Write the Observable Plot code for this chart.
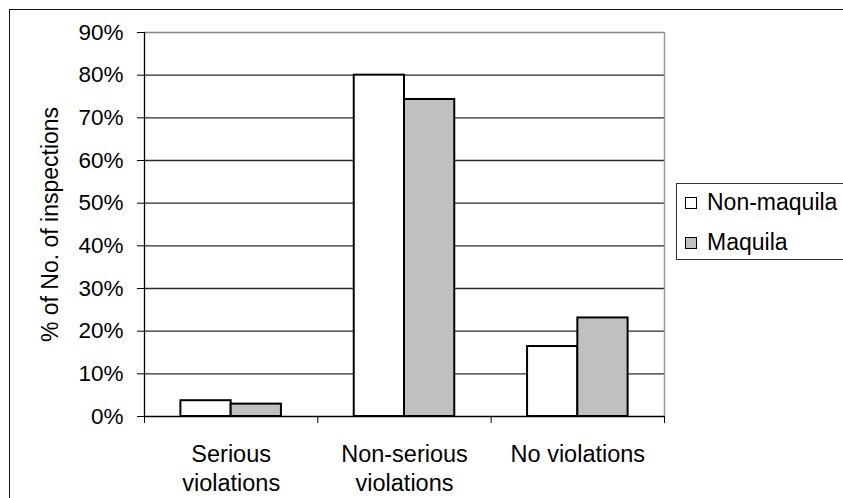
<!DOCTYPE html>
<html>
<head>
<meta charset="utf-8">
<script src="https://cdn.jsdelivr.net/npm/d3@7"></script>
<script src="https://cdn.jsdelivr.net/npm/@observablehq/plot@0.6"></script>
<style>
  html, body { margin: 0; padding: 0; background: #fff; }
  #wrap { position: relative; width: 843px; height: 498px; overflow: hidden;
          font-family: "Liberation Sans", Arial, sans-serif; }
  #wrap svg { position: absolute; left: 0; top: 0; }
  #outline { position: absolute; left: 9px; top: 9px; width: 900px; height: 600px;
             border-left: 1.5px solid #111; border-top: 1.5px solid #111; }
  #legend { position: absolute; left: 676px; top: 183px; width: 220px; height: 75px;
            border: 1.5px solid #333; background: #fff; }
  .item { position: absolute; left: 8px; font-size: 23px; line-height: 23px; color: #000;
          display: flex; align-items: center; white-space: nowrap; }
  .swatch { width: 10px; height: 10px; border: 1.5px solid #000; margin-right: 10px; }
</style>
</head>
<body>
<div id="wrap">
  <div id="outline"></div>
  <div id="legend"></div>
</div>
<script>
// Inspection outcomes, percent of inspections
const categories = ["Serious violations", "Non-serious violations", "No violations"];
const categoryLabels = ["Serious\nviolations", "Non-serious\nviolations", "No violations"];
const series = ["Non-maquila", "Maquila"];
const seriesColors = ["#ffffff", "#c0c0c0"];
const nonMaquila = [3.7, 80, 16.4];
const maquila = [2.9, 74.3, 23.1];
const yTicks = [0, 10, 20, 30, 40, 50, 60, 70, 80, 90];

// One row per bar; each category occupies one unit on x, bars sit side by side in the middle
const barWidth = 0.29;
const rows = [];
categories.forEach((c, i) => {
  [nonMaquila, maquila].forEach((vals, s) => {
    rows.push({category: c, index: i, series: series[s], slot: s, value: vals[i]});
  });
});

const chart = Plot.plot({
  width: 843,
  height: 498,
  marginLeft: 144,
  marginRight: 179,
  marginTop: 32,
  marginBottom: 82,
  style: {fontFamily: "Liberation Sans, Arial, sans-serif", fontSize: "22.5px", background: "transparent", color: "#000"},
  x: {domain: [0, categories.length], ticks: d3.range(0, categories.length + 1), tickFormat: () => "", tickSize: 7, label: null},
  y: {domain: [0, 90], ticks: yTicks, tickFormat: d => d + "%", tickSize: 7, tickPadding: 14, label: null},
  color: {domain: series, range: seriesColors},
  marks: [
    Plot.ruleY(yTicks.filter(d => d > 0 && d < 90), {stroke: "#2a2a2a", strokeWidth: 1.3}),
    Plot.ruleY([90], {stroke: "#888", strokeWidth: 1.5}),
    Plot.ruleX([categories.length], {stroke: "#999", strokeWidth: 1.5}),
    Plot.rectY(rows, {
      x1: d => d.index + 0.5 - barWidth + d.slot * barWidth,
      x2: d => d.index + 0.5 + d.slot * barWidth,
      y1: () => 0,
      y2: "value",
      fill: "series",
      stroke: "#000",
      strokeWidth: 2
    }),
    Plot.ruleX([0], {stroke: "#000", strokeWidth: 1.3}),
    Plot.ruleY([0], {stroke: "#000", strokeWidth: 1.3}),
    Plot.text(categories, {
      x: (d, i) => i + 0.5,
      y: () => 0,
      text: (d, i) => categoryLabels[i],
      lineAnchor: "top",
      lineHeight: 1.24,
      dy: 25,
      fontSize: 23.5,
      fill: "#000"
    }),
    Plot.text(["% of No. of inspections"], {
      frameAnchor: "left",
      textAnchor: "middle",
      rotate: -90,
      dx: -94,
      fontSize: 23,
      fill: "#000"
    })
  ]
});

document.getElementById("wrap").appendChild(chart);

// Legend
const legend = document.getElementById("legend");
series.forEach((s, i) => {
  const item = document.createElement("div");
  item.className = "item";
  item.style.top = (7 + i * 40) + "px";
  const sw = document.createElement("span");
  sw.className = "swatch";
  sw.style.background = seriesColors[i];
  item.appendChild(sw);
  item.appendChild(document.createTextNode(s));
  legend.appendChild(item);
});
</script>
</body>
</html>
